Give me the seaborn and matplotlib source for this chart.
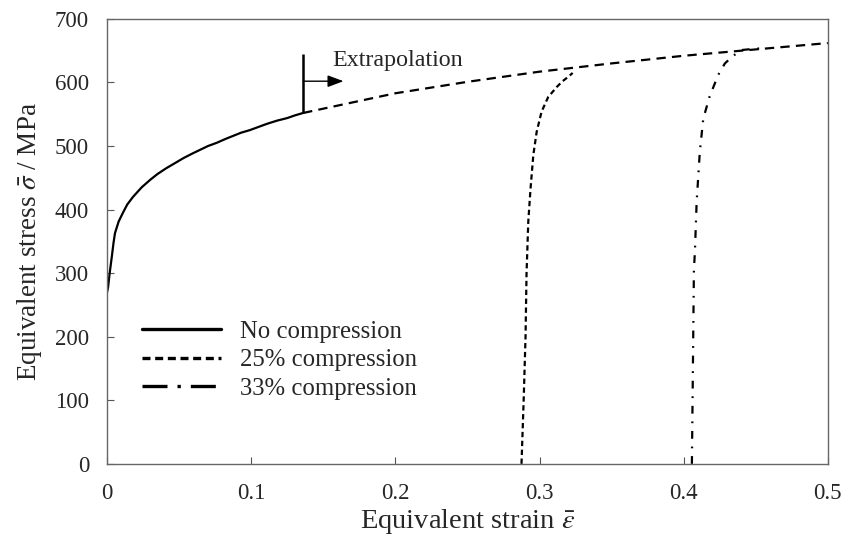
import numpy as np
import pandas as pd
import matplotlib
matplotlib.use("Agg")
import matplotlib.pyplot as plt
from matplotlib.lines import Line2D
import seaborn as sns

# Measured flow curve (no pre-compression)
strain_none = [0.0, 0.0007, 0.0018, 0.0033, 0.0045, 0.0055, 0.008, 0.011, 0.014, 0.018,
               0.024, 0.030, 0.035, 0.041, 0.047, 0.053, 0.059, 0.0645, 0.070, 0.076,
               0.082, 0.0875, 0.093, 0.099, 0.105, 0.111, 0.118, 0.125, 0.130, 0.136]
stress_none = [270, 278, 300, 326, 348, 363, 381, 395, 408, 420,
               435, 447, 456, 465, 473, 481, 488, 494, 500, 505,
               511, 516, 521, 525, 530, 535, 540, 544, 548, 552]

# Extrapolated continuation of the flow curve
strain_extra = [0.136, 0.2, 0.25, 0.3, 0.35, 0.4, 0.45, 0.5]
stress_extra = [552, 583, 601, 617, 630, 642, 652, 662]

# Re-loading curve after 25% compression
strain_25 = [0.2875, 0.289, 0.2903, 0.291, 0.2922, 0.2938, 0.2957, 0.298, 0.3014,
             0.306, 0.312, 0.316, 0.320, 0.323]
stress_25 = [0, 100, 200, 300, 381, 434, 486, 522, 554,
             577, 593, 602, 609, 615]

# Re-loading curve after 33% compression
strain_33 = [0.4057, 0.4064, 0.4071, 0.4078, 0.409, 0.4112, 0.4136, 0.418, 0.424,
             0.4286, 0.4344, 0.4402, 0.449, 0.456]
stress_33 = [0, 150, 305, 334, 412, 491, 543, 578, 612,
             630, 642, 651, 653, 654]

legend_labels = ["No compression", "25% compression", "33% compression"]
x_ticks = [0, 0.1, 0.2, 0.3, 0.4, 0.5]
x_tick_labels = ["0", "0.1", "0.2", "0.3", "0.4", "0.5"]
y_ticks = [0, 100, 200, 300, 400, 500, 600, 700]

sns.set_theme(style="white")
plt.rcParams["font.family"] = ["Liberation Serif", "DejaVu Serif"]
plt.rcParams["mathtext.fontset"] = "stix"

fig = plt.figure(figsize=(8.43, 5.40), dpi=100)
ax = fig.add_axes([0.127, 0.141, 0.855, 0.824])

lw = 1.6
sns.lineplot(x=strain_none, y=stress_none, ax=ax, color="black", lw=lw,
             sort=False, estimator=None)
sns.lineplot(x=strain_extra, y=stress_extra, ax=ax, color="black", lw=lw,
             sort=False, estimator=None)
ax.lines[-1].set_dashes([4.2, 2.8])
sns.lineplot(x=strain_25, y=stress_25, ax=ax, color="black", lw=lw,
             sort=False, estimator=None)
ax.lines[-1].set_dashes([2.4, 1.6])
sns.lineplot(x=strain_33, y=stress_33, ax=ax, color="black", lw=lw,
             sort=False, estimator=None)
ax.lines[-1].set_dashes([3.5, 3.5, 0.8, 3.5])

# Extrapolation marker: vertical bar with arrow
ax.plot([0.136, 0.136], [552, 645], color="black", lw=1.8, solid_capstyle="butt")
ax.annotate("", xy=(0.164, 602), xytext=(0.136, 602),
            arrowprops=dict(arrowstyle="-|>,head_length=0.8,head_width=0.3",
                            color="black", lw=1.0, shrinkA=0, shrinkB=0))
ax.text(0.156, 635, "Extrapolation", fontsize=17.3, ha="left", va="center")

ax.set_xlim(0, 0.5)
ax.set_ylim(0, 700)
ax.set_xticks(x_ticks)
ax.set_xticklabels(x_tick_labels)
ax.set_yticks(y_ticks)
ax.tick_params(axis="x", direction="in", length=5, width=0.8, color="#555555",
               labelsize=16.5, pad=14)
ax.tick_params(axis="y", direction="in", length=5, width=0.8, color="#555555",
               labelsize=16.5, pad=13)
ax.tick_params(axis="x", bottom=True)
ax.tick_params(axis="y", left=True)
for s in ax.spines.values():
    s.set_color("#666666")
    s.set_linewidth(1.0)

ax.set_xlabel(r"Equivalent strain $\bar{\varepsilon}$", fontsize=20.5, labelpad=2)
ax.set_ylabel(r"Equivalent stress $\bar{\sigma}$ / MPa", fontsize=19.5, labelpad=8)

handles = [
    Line2D([], [], color="black", lw=2.4),
    Line2D([], [], color="black", lw=2.4, dashes=[2.4, 1.4]),
    Line2D([], [], color="black", lw=2.4, dashes=[7.5, 3, 1, 3]),
]
ax.legend(handles, legend_labels, loc="upper left", bbox_to_anchor=(0.035, 0.345),
          frameon=False, fontsize=17.8, handlelength=3.2, handletextpad=0.75,
          labelspacing=0.26, borderaxespad=0)

fig.savefig("out.png", dpi=100)
